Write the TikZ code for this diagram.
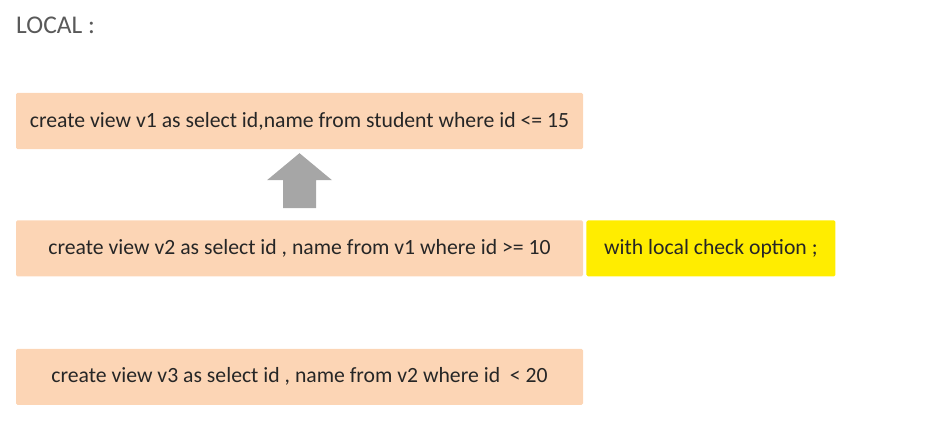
\documentclass[tikz,border=0pt]{standalone}
\usepackage{fontspec}
\setmainfont{Carlito}
\usepackage{xcolor}
\usepackage{tikz}
\usetikzlibrary{positioning}

\definecolor{peach}{HTML}{FCD5B5}
\definecolor{hilite}{HTML}{FFED00}
\definecolor{titlegray}{HTML}{595959}
\definecolor{arrowgray}{HTML}{A6A6A6}

\tikzset{
  viewbox/.style={fill=peach, rounded corners=1.5pt, minimum width=567pt, minimum height=56pt,
    inner sep=0pt, text=black!85, font=\fontsize{21.7}{24}\selectfont},
  optbox/.style={fill=hilite, rounded corners=1.5pt, minimum width=249pt, minimum height=56pt,
    inner sep=0pt, text=black!85, font=\fontsize{21.7}{24}\selectfont},
  blockarrow/.style={fill=arrowgray}
}

\begin{document}
\begin{tikzpicture}[x=1pt, y=1pt]
\useasboundingbox (0,0) rectangle (946,-428);

\node[anchor=base west, text=titlegray, font=\fontsize{25.5}{30}\selectfont, inner sep=0pt] (title) at (16,-34) {LOCAL :};

\node[viewbox] (v1) at (299.5,-121) {create view v1 as select id,name from student where id <= 15};
\node[viewbox, below=71pt of v1] (v2) {create view v2 as select id , name from v1 where id >= 10};
\node[optbox, right=3pt of v2] (opt) {with local check option ;};
\node[viewbox, below=72pt of v2] (v3) {create view v3 as select id , name from v2 where id~ < 20};

% block arrow from v2 up to v1
\coordinate (tip) at ([yshift=-4pt]v1.south);
\coordinate (tail) at ([yshift=12pt]v2.north);
\fill[blockarrow] ([xshift=-16.5pt]tail) -- ++(0,28) -- ++(-16,0) -- (tip)
  -- ([xshift=32.5pt,yshift=28pt]tail) -- ++(-16,0) -- ([xshift=16.5pt]tail) -- cycle;
\end{tikzpicture}
\end{document}
